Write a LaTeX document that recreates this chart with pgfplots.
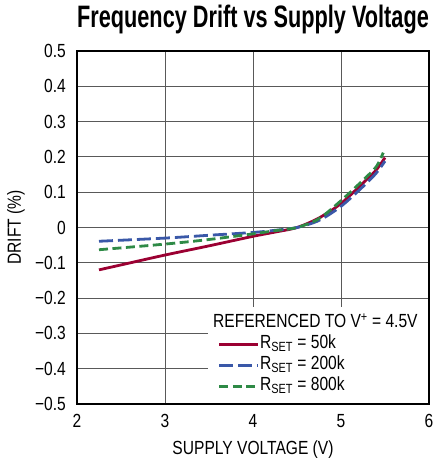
\documentclass[border=0pt]{standalone}
\usepackage{fontspec}
\setmainfont[FakeStretch=0.82]{Liberation Sans}
\newfontfamily\titlefont[FakeStretch=0.70]{Liberation Sans}
\usepackage{pgfplots}
\pgfplotsset{compat=1.18}
\definecolor{cred}{RGB}{155,0,50}
\definecolor{cblue}{RGB}{58,88,168}
\definecolor{cgreen}{RGB}{46,138,70}
\begin{document}
\begin{tikzpicture}
\begin{axis}[
  scale only axis, width=352pt, height=353pt,
  xmin=2, xmax=6, ymin=-0.5, ymax=0.5,
  xtick={2,3,4,5,6}, xticklabels={2,3,4,5,6},
  ytick={-0.5,-0.4,-0.3,-0.2,-0.1,0,0.1,0.2,0.3,0.4,0.5},
  yticklabels={−0.5,−0.4,−0.3,−0.2,−0.1,0,0.1,0.2,0.3,0.4,0.5},
  tick label style={font=\fontsize{19}{22}\selectfont},
  x tick label style={anchor=base, yshift=-23pt, inner sep=0pt},
  y tick label style={anchor=east, xshift=-11pt, inner sep=0pt},
  major tick length=0pt,
  grid=major,
  grid style={black!65, line width=0.9pt},
  axis line style={black, line width=1.3pt},
  title={\titlefont\bfseries Frequency Drift vs Supply Voltage},
  title style={font=\fontsize{31}{34}\selectfont, at={(axis description cs:0.5,1)}, anchor=base, yshift=17pt, inner sep=0pt},
  xlabel={SUPPLY VOLTAGE (V)},
  xlabel style={font=\fontsize{19}{22}\selectfont, at={(axis description cs:0.5,0)}, anchor=base, yshift=-50pt, inner sep=0pt},
  ylabel={DRIFT (\%)},
  ylabel style={font=\fontsize{19}{22}\selectfont, at={(axis description cs:0,0.5)}, anchor=center, yshift=61pt, inner sep=0pt},
  legend cell align=left,
  legend style={at={(axis description cs:1,0)}, anchor=south east, xshift=-0.7pt, yshift=0.7pt, draw=none, fill=white,
    font=\fontsize{19}{22}\selectfont, row sep=0pt, inner xsep=10pt, inner ysep=6pt,
    nodes={text height=14pt, text depth=6pt, inner sep=0.5pt}},
  legend image code/.code={\draw[#1] (0pt,0pt) -- (39pt,0pt);},
]
\addlegendimage{empty legend}
\addlegendentry{\hspace{-47pt}REFERENCED TO V\textsuperscript{+} = 4.5V}
\addplot[cred, line width=2.8pt, smooth] coordinates {
(2.25,-0.120) (2.5,-0.106) (3,-0.078) (3.5,-0.052) (4,-0.025) (4.25,-0.013) (4.5,0) (4.75,0.027) (5,0.068) (5.25,0.126) (5.4,0.163) (5.5,0.198)};
\addlegendentry{R\textsubscript{SET} = 50k}
\addplot[cblue, line width=2.8pt, dash pattern=on 14pt off 5pt, smooth] coordinates {
(2.25,-0.039) (3,-0.030) (3.5,-0.022) (4,-0.014) (4.25,-0.008) (4.5,0) (4.75,0.020) (5,0.060) (5.25,0.116) (5.4,0.154) (5.5,0.188)};
\addlegendentry{R\textsubscript{SET} = 200k}
\addplot[cgreen, line width=2.8pt, dash pattern=on 9pt off 4.5pt, smooth] coordinates {
(2.25,-0.063) (3,-0.047) (3.5,-0.034) (4,-0.018) (4.25,-0.009) (4.5,0) (4.75,0.025) (5,0.076) (5.25,0.134) (5.4,0.172) (5.48,0.212)};
\addlegendentry{R\textsubscript{SET} = 800k}
\end{axis}
\pgfresetboundingbox
\path ([xshift=-77pt,yshift=-54pt]current axis.south west) rectangle ([xshift=13pt,yshift=51pt]current axis.north east);
\end{tikzpicture}
\end{document}
